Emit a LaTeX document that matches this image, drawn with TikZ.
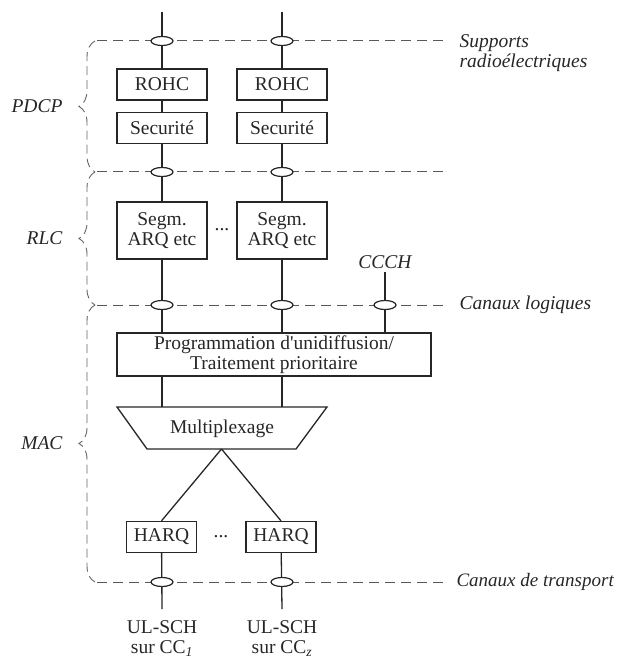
\documentclass[tikz,border=0pt]{standalone}
\usepackage{fontspec}
\setmainfont{Liberation Serif}
\usetikzlibrary{shapes.geometric,decorations.pathreplacing,positioning}

\begin{document}
\begin{tikzpicture}[x=1pt, y=-1pt,
  font=\fontsize{19.5}{20}\selectfont,
  every node/.style={text=black!85},
  box/.style={draw=black!85, line width=1.3pt, inner sep=0pt, minimum width=90pt, minimum height=31pt, align=center},
  sap/.style={ellipse, draw=black!85, fill=white, line width=1.2pt, minimum width=22pt, minimum height=9pt, inner sep=0pt},
  layer/.style={draw=black!65, line width=1pt, dash pattern=on 10pt off 6pt},
  link/.style={draw=black!85, line width=1.3pt},
  brc/.style={draw=black!60, line width=0.9pt, dash pattern=on 9pt off 5pt, decorate, decoration={brace, mirror, amplitude=16pt}},
  lbl/.style={font=\fontsize{19.5}{20}\selectfont\itshape, align=left}]
\useasboundingbox (0,0) rectangle (616,660);

% PDCP
\coordinate (top1) at (162,12);
\coordinate (top2) at (282,12);
\node[box] (rohc1) at (162,84.5) {ROHC};
\node[box] (rohc2) at (282,84.5) {ROHC};
\node[box] (sec1) at (162,128) {Securité};
\node[box] (sec2) at (282,128) {Securité};

% RLC
\node[box, minimum height=57pt] (segm1) at (162,230.5) {Segm.\\ARQ etc};
\node[box, minimum height=57pt] (segm2) at (282,230.5) {Segm.\\ARQ etc};
\node (dots1) at (222,230) {...};
\node[lbl] (ccch) at (385,262) {CCCH};

% MAC
\node[box, minimum width=314pt, minimum height=43pt] (prog) at (274,354.5) {Programmation d\textquotesingle unidiffusion/\\Traitement prioritaire};
\coordinate (muxtl) at (117,407);
\coordinate (muxtr) at (327,407);
\coordinate (muxbr) at (296,449);
\coordinate (muxbl) at (147,449);
\coordinate (muxb) at (221.5,449);
\draw[link] (muxtl) -- (muxtr) -- (muxbr) -- (muxbl) -- cycle;
\node (mux) at (222,429) {Multiplexage};
\node[box, minimum width=70pt] (harq1) at (161.5,537) {HARQ};
\node[box, minimum width=70pt] (harq2) at (281,537) {HARQ};
\node (dots2) at (221,537) {...};
\coordinate (bot1) at (162,609);
\coordinate (bot2) at (282,609);
\node[align=center, inner sep=0pt, below=11pt of bot1] (ul1) {UL-SCH\\sur CC\textsubscript{\itshape 1}};
\node[align=center, inner sep=0pt, below=11pt of bot2] (ul2) {UL-SCH\\sur CC\textsubscript{\itshape z}};

% liaisons
\draw[link] (top1) -- (rohc1);
\draw[link] (top2) -- (rohc2);
\draw[link] (rohc1) -- (sec1);
\draw[link] (rohc2) -- (sec2);
\draw[link] (sec1) -- (segm1);
\draw[link] (sec2) -- (segm2);
\draw[link] (segm1) -- (segm1 |- prog.north);
\draw[link] (segm2) -- (segm2 |- prog.north);
\draw[link] (ccch) -- (ccch |- prog.north);
\draw[link] (segm1 |- prog.south) -- (segm1 |- muxtl);
\draw[link] (segm2 |- prog.south) -- (segm2 |- muxtl);
\draw[link] (muxb) -- (harq1.north);
\draw[link] (muxb) -- (harq2.north);
\draw[link] (harq1) -- (bot1);
\draw[link] (harq2) -- (bot2);

% couches
\draw[layer] (97,41) -- (447,41);
\draw[layer] (97,172) -- (447,172);
\draw[layer] (97,305) -- (447,305);
\draw[layer] (97,582) -- (447,582);
\foreach \y in {41,172,305,582} {
  \node[sap] at (162,\y) {};
  \node[sap] at (282,\y) {};
}
\node[sap] at (385,305) {};
\node[lbl, anchor=west] (supp) at (456,53) {Supports\\radioélectriques};
\node[lbl, anchor=west] (logi) at (456,305) {Canaux logiques};
\node[lbl, anchor=east, inner sep=0pt, font=\fontsize{19}{20}\selectfont\itshape] (trans) at (614,582) {Canaux de transport};

% accolades
\draw[brc] (95,41) -- (95,172);
\draw[brc] (95,172) -- (95,305);
\draw[brc] (95,305) -- (95,582);
\node[lbl, anchor=east] (pdcp) at (66,106.5) {PDCP};
\node[lbl, anchor=east] (rlc) at (66,238.5) {RLC};
\node[lbl, anchor=east] (mac) at (66,443.5) {MAC};
\end{tikzpicture}
\end{document}
